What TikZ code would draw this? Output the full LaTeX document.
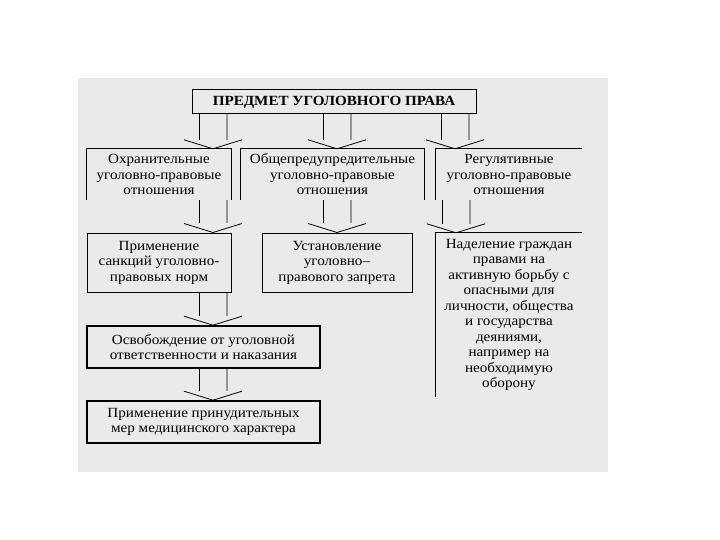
\documentclass[tikz,border=0pt]{standalone}
\usepackage{fontspec}
\setmainfont[FakeStretch=1.08]{Liberation Serif}
\usetikzlibrary{calc}
\definecolor{panelgray}{RGB}{234,234,234}
\definecolor{shaftgray}{RGB}{150,150,150}
\newcommand{\fatarrow}[3]{%
    \draw[line width=1pt] let \p1=(#2.south), \p2=(#3.north) in
        ({#1-14},\y1) -- ({#1-14},{\y2+9});
    \draw[line width=1.2pt, shaftgray] let \p1=(#2.south), \p2=(#3.north) in
        ({#1+14},\y1) -- ({#1+14},{\y2+9});
    \draw[line width=0.8pt] let \p2=(#3.north) in
        ({#1-29},{\y2+9}) -- (#1,\y2) -- ({#1+29},{\y2+9});
}

\begin{document}
\begin{tikzpicture}[x=1pt, y=1pt,
    box/.style={inner sep=0pt, align=center, font=\fontsize{14}{15.5}\selectfont},
    edge/.style={line width=1pt},
    heavy/.style={line width=1.6pt}]
    \useasboundingbox (0,0) rectangle (720,-540);
    \fill[white] (0,0) rectangle (720,-540);
    \fill[panelgray] (78,-78) rectangle (608,-472);

    \node[box, draw, edge, minimum width=284, minimum height=24, font=\fontsize{14}{15.5}\selectfont\bfseries] (title) at (334,-102) {ПРЕДМЕТ УГОЛОВНОГО ПРАВА};

    \node[box, minimum width=145, minimum height=51] (ohr) at (159,-174.5) {Охранительные\\уголовно-правовые\\отношения};
    \node[box, minimum width=183, minimum height=51] (obsh) at (332.5,-174.5) {Общепредупредительные\\уголовно-правовые\\отношения};
    \node[box, minimum width=146, minimum height=51] (reg) at (509,-174.5) {Регулятивные\\уголовно-правовые\\отношения};

    \draw[edge] (ohr.south west) -- (ohr.north west) -- (ohr.north east) -- (ohr.south east);
    \draw[edge] (obsh.south west) -- (obsh.north west) -- (obsh.north east) -- (obsh.south east);
    \draw[edge] (reg.south west) -- (reg.north west) -- (reg.north east);

    \node[box, draw, edge, minimum width=144, minimum height=59] (prim) at (159,-262.5) {Применение\\санкций уголовно-\\правовых норм};
    \node[box, draw, edge, minimum width=150, minimum height=59] (ust) at (337,-262.5) {Установление\\уголовно–\\правового запрета};
    \node[box, minimum width=146, minimum height=164] (nad) at (509,-315) {Наделение граждан\\правами на\\активную борьбу с\\опасными для\\личности, общества\\и государства\\деяниями,\\например на\\необходимую\\оборону};
    \draw[edge] (nad.south west) -- (nad.north west) -- (nad.north east);

    \node[box, draw, heavy, minimum width=233, minimum height=42] (osv) at (203.5,-347) {Освобождение от уголовной\\ответственности и наказания};
    \node[box, draw, heavy, minimum width=233, minimum height=42] (med) at (203.5,-422) {Применение принудительных\\мер медицинского характера};

    \fatarrow{213}{title}{ohr}
    \fatarrow{337}{title}{obsh}
    \fatarrow{455}{title}{reg}
    \fatarrow{213}{ohr}{prim}
    \fatarrow{337}{obsh}{ust}
    \fatarrow{456}{reg}{nad}
    \fatarrow{213}{prim}{osv}
    \fatarrow{213}{osv}{med}
\end{tikzpicture}
\end{document}
